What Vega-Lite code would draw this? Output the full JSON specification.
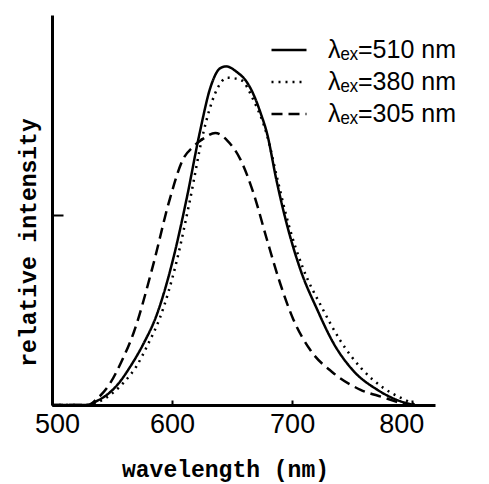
{
  "$schema": "https://vega.github.io/schema/vega-lite/v6.json",
  "autosize": {"type": "none"},
  "padding": {"left": 52, "top": 15, "right": 54, "bottom": 79},
  "width": 383,
  "height": 390,
  "background": "white",
  "config": {"view": {"stroke": null}},
  "data": {"values": [
    {"s": "510", "wl": 500, "I": 0}, {"s": "510", "wl": 530, "I": 0}, {"s": "510", "wl": 537, "I": 0.02}, {"s": "510", "wl": 545, "I": 0.05}, {"s": "510", "wl": 555, "I": 0.11}, {"s": "510", "wl": 565, "I": 0.2}, {"s": "510", "wl": 576, "I": 0.32}, {"s": "510", "wl": 587, "I": 0.47}, {"s": "510", "wl": 601, "I": 0.77}, {"s": "510", "wl": 612, "I": 1.08}, {"s": "510", "wl": 623, "I": 1.43}, {"s": "510", "wl": 632, "I": 1.67}, {"s": "510", "wl": 640, "I": 1.77}, {"s": "510", "wl": 645, "I": 1.78}, {"s": "510", "wl": 654, "I": 1.75}, {"s": "510", "wl": 662, "I": 1.7}, {"s": "510", "wl": 668, "I": 1.63}, {"s": "510", "wl": 674, "I": 1.53}, {"s": "510", "wl": 679, "I": 1.43}, {"s": "510", "wl": 687, "I": 1.18}, {"s": "510", "wl": 696, "I": 0.94}, {"s": "510", "wl": 707, "I": 0.71}, {"s": "510", "wl": 721, "I": 0.5}, {"s": "510", "wl": 734, "I": 0.33}, {"s": "510", "wl": 751, "I": 0.18}, {"s": "510", "wl": 771, "I": 0.08}, {"s": "510", "wl": 790, "I": 0.02}, {"s": "510", "wl": 802, "I": 0},
    {"s": "380", "wl": 500, "I": 0}, {"s": "380", "wl": 532, "I": 0}, {"s": "380", "wl": 540, "I": 0.02}, {"s": "380", "wl": 550, "I": 0.06}, {"s": "380", "wl": 560, "I": 0.12}, {"s": "380", "wl": 570, "I": 0.2}, {"s": "380", "wl": 580, "I": 0.32}, {"s": "380", "wl": 590, "I": 0.46}, {"s": "380", "wl": 604, "I": 0.76}, {"s": "380", "wl": 615, "I": 1.08}, {"s": "380", "wl": 626, "I": 1.43}, {"s": "380", "wl": 636, "I": 1.64}, {"s": "380", "wl": 646, "I": 1.72}, {"s": "380", "wl": 657, "I": 1.71}, {"s": "380", "wl": 668, "I": 1.6}, {"s": "380", "wl": 679, "I": 1.42}, {"s": "380", "wl": 688, "I": 1.18}, {"s": "380", "wl": 697, "I": 0.95}, {"s": "380", "wl": 709, "I": 0.72}, {"s": "380", "wl": 725, "I": 0.51}, {"s": "380", "wl": 740, "I": 0.34}, {"s": "380", "wl": 758, "I": 0.19}, {"s": "380", "wl": 776, "I": 0.09}, {"s": "380", "wl": 793, "I": 0.03}, {"s": "380", "wl": 803, "I": 0},
    {"s": "305", "wl": 500, "I": 0}, {"s": "305", "wl": 530, "I": 0}, {"s": "305", "wl": 537, "I": 0.03}, {"s": "305", "wl": 548, "I": 0.11}, {"s": "305", "wl": 558, "I": 0.23}, {"s": "305", "wl": 568, "I": 0.38}, {"s": "305", "wl": 584, "I": 0.73}, {"s": "305", "wl": 598, "I": 1.08}, {"s": "305", "wl": 609, "I": 1.29}, {"s": "305", "wl": 618, "I": 1.36}, {"s": "305", "wl": 626, "I": 1.4}, {"s": "305", "wl": 636, "I": 1.43}, {"s": "305", "wl": 646, "I": 1.39}, {"s": "305", "wl": 657, "I": 1.29}, {"s": "305", "wl": 668, "I": 1.11}, {"s": "305", "wl": 679, "I": 0.87}, {"s": "305", "wl": 690, "I": 0.64}, {"s": "305", "wl": 701, "I": 0.45}, {"s": "305", "wl": 715, "I": 0.29}, {"s": "305", "wl": 734, "I": 0.17}, {"s": "305", "wl": 757, "I": 0.08}, {"s": "305", "wl": 776, "I": 0.04}, {"s": "305", "wl": 795, "I": 0}
  ]},
  "mark": {"type": "line", "interpolate": "monotone", "strokeWidth": 2.5, "color": "black"},
  "encoding": {
    "x": {"field": "wl", "type": "quantitative",
      "scale": {"domain": [500, 819], "nice": false, "zero": false},
      "axis": {"values": [500, 600, 700, 800], "grid": false, "domainWidth": 3, "domainColor": "black",
        "tickSize": -5, "tickWidth": 2, "tickColor": "black",
        "labelFont": "Liberation Sans", "labelFontSize": 27, "labelColor": "black", "labelFlush": false, "labelPadding": 11,
        "labelOffset": {"condition": [{"test": "datum.value == 800", "value": -11}, {"test": "datum.value == 500", "value": 5}], "value": 0},
        "title": "wavelength (nm)", "titleFont": "Liberation Mono", "titleFontSize": 23, "titleFontWeight": "bold", "titleColor": "black",
        "titleX": 173, "titleY": 64, "titleBaseline": "middle", "titleAnchor": "middle"}},
    "y": {"field": "I", "type": "quantitative",
      "scale": {"domain": [0, 2.05], "nice": false},
      "axis": {"values": [1], "labels": false, "grid": false, "domainWidth": 3, "domainColor": "black",
        "tickSize": -11, "tickWidth": 2, "tickColor": "black",
        "title": "relative intensity", "titleFont": "Liberation Mono", "titleFontSize": 23, "titleFontWeight": "bold", "titleColor": "black",
        "titleX": -24, "titleY": 227, "titleBaseline": "middle", "titleAnchor": "middle"}},
    "strokeDash": {"field": "s", "type": "nominal",
      "scale": {"domain": ["510", "380", "305"], "range": [[1, 0], [2, 5], [11, 6]]},
      "legend": {"orient": "none", "legendX": 218, "legendY": 16, "title": null,
        "symbolType": "stroke", "symbolSize": 1225, "symbolStrokeWidth": 2.5, "symbolStrokeColor": "black",
        "labelExpr": "'λₑₓ=' + datum.label + ' nm'", "labelFont": "Liberation Sans", "labelFontSize": 25, "labelColor": "black",
        "labelOffset": 20, "rowPadding": -1, "padding": 0}}
  }
}
